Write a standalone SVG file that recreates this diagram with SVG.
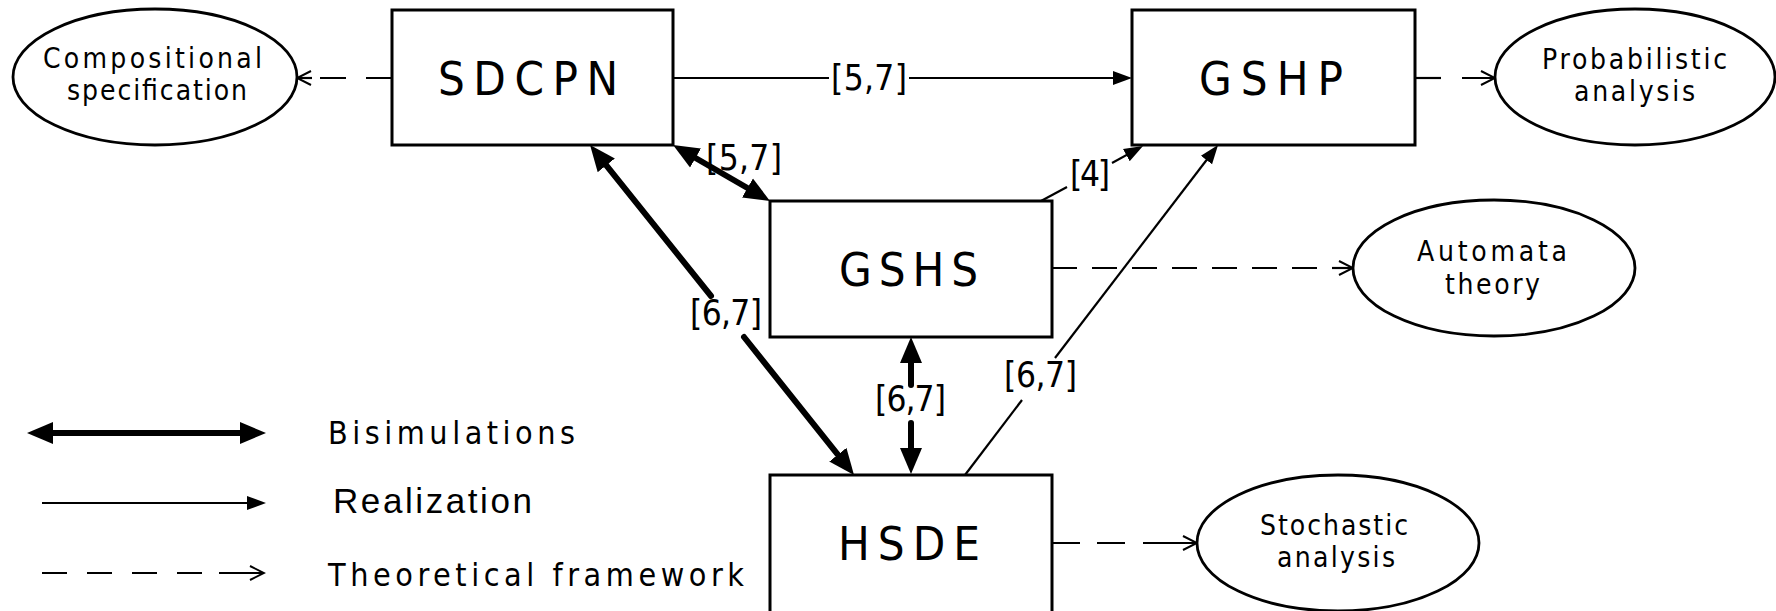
<svg xmlns="http://www.w3.org/2000/svg" width="1776" height="611" viewBox="0 0 1776 611">
<style>
.box{fill:#fff;stroke:#000;stroke-width:3}
.ell{fill:#fff;stroke:#000;stroke-width:2.8}
.t{font-family:"Liberation Sans Narrow","DejaVu Sans Condensed","Liberation Sans",sans-serif;font-stretch:condensed;fill:#000}
.big{font-size:47px}
.sm{font-size:28px}
.lab{font-size:35px}
.leg{font-size:32px}
.thin{stroke:#000;stroke-width:2.2;fill:none}
.thick{stroke:#000;stroke-width:6;fill:none;stroke-linecap:round}
.dash{stroke:#000;stroke-width:2.2;fill:none;stroke-dasharray:26 20}
</style>
<defs>
<marker id="mThin" markerUnits="userSpaceOnUse" markerWidth="20" markerHeight="16" viewBox="0 0 20 16" refX="14" refY="8" orient="auto"><path d="M0,1 L19,8 L0,15 z" fill="#000"/></marker>
<marker id="mThick" markerUnits="userSpaceOnUse" markerWidth="27" markerHeight="24" viewBox="0 0 27 24" refX="16" refY="12" orient="auto-start-reverse"><path d="M0,1 L26,12 L0,23 z" fill="#000"/></marker>
<marker id="mOpen" markerUnits="userSpaceOnUse" markerWidth="18" markerHeight="18" viewBox="0 0 18 18" refX="16" refY="9" orient="auto"><path d="M2,2 L16,9 L2,16" fill="none" stroke="#000" stroke-width="2"/></marker>
</defs>

<g id="connectors">
<!-- SDCPN -> Compositional -->
<path class="dash" d="M392,78 L320,78"/>
<path class="thin" d="M312,78 L297,78" marker-end="url(#mOpen)"/>
<!-- GSHP -> Probabilistic -->
<path class="dash" d="M1415,78 L1441,78"/>
<path class="thin" d="M1462,78 L1495,78" marker-end="url(#mOpen)"/>
<!-- GSHS -> Automata -->
<path class="dash" d="M1052,268 L1318,268" style="stroke-dasharray:25 15"/>
<path class="thin" d="M1332,268 L1353,268" marker-end="url(#mOpen)"/>
<!-- HSDE -> Stochastic -->
<path class="dash" d="M1052,543 L1126,543" style="stroke-dasharray:28 17"/>
<path class="thin" d="M1143,543 L1197,543" marker-end="url(#mOpen)"/>
<!-- SDCPN -> GSHP -->
<path class="thin" d="M673,78 L829,78"/>
<path class="thin" d="M909,78 L1127,78" marker-end="url(#mThin)"/>
<!-- SDCPN <-> GSHS -->
<path class="thick" style="stroke-linecap:butt" d="M681.7,150 L761.3,196" marker-start="url(#mThick)" marker-end="url(#mThick)"/>
<!-- SDCPN <-> HSDE -->
<path class="thick" d="M711,296 L596.3,152.8" marker-end="url(#mThick)"/>
<path class="thick" d="M744,337 L847.8,467.2" marker-end="url(#mThick)"/>
<!-- GSHS <-> HSDE -->
<path class="thick" d="M911,385 L911,347" marker-end="url(#mThick)"/>
<path class="thick" d="M911,423 L911,464" marker-end="url(#mThick)"/>
<!-- HSDE -> GSHP -->
<path class="thin" d="M965,475 L1022,400"/>
<path class="thin" d="M1055,358 L1215,149" marker-end="url(#mThin)"/>
<!-- GSHS -> GSHP [4] -->
<path class="thin" d="M1041,201 L1067,187"/>
<path class="thin" d="M1112,163 L1138.6,148.4" marker-end="url(#mThin)"/>
<!-- labels -->
<text class="t lab" x="831" y="90" textLength="76">[5,7]</text>
<text class="t lab" x="706" y="170" textLength="76">[5,7]</text>
<text class="t lab" x="1070" y="186" textLength="40">[4]</text>
<text class="t lab" x="690" y="325" textLength="72">[6,7]</text>
<text class="t lab" x="875" y="411" textLength="71">[6,7]</text>
<text class="t lab" x="1004" y="387" textLength="73">[6,7]</text>
</g>

<g id="SDCPN"><rect class="box" x="392" y="10" width="281" height="135"/><text class="t big" x="438" y="95" textLength="180">SDCPN</text></g>
<g id="GSHP"><rect class="box" x="1132" y="10" width="283" height="135"/><text class="t big" x="1199" y="95" textLength="144">GSHP</text></g>
<g id="GSHS"><rect class="box" x="770" y="201" width="282" height="136"/><text class="t big" x="839" y="286" textLength="139">GSHS</text></g>
<g id="HSDE"><rect class="box" x="770" y="475" width="282" height="150"/><text class="t big" x="838" y="560" textLength="142">HSDE</text></g>

<g id="compositional"><ellipse class="ell" cx="155" cy="77" rx="142" ry="68"/><text class="t sm" x="43" y="68" textLength="219">Compositional</text><text class="t sm" x="67" y="100" textLength="180">specification</text></g>
<g id="probabilistic"><ellipse class="ell" cx="1635" cy="77" rx="140" ry="68"/><text class="t sm" x="1542" y="69" textLength="185">Probabilistic</text><text class="t sm" x="1574" y="101" textLength="121">analysis</text></g>
<g id="automata"><ellipse class="ell" cx="1494" cy="268" rx="141" ry="68"/><text class="t sm" x="1417" y="261" textLength="150">Automata</text><text class="t sm" x="1445" y="294" textLength="95">theory</text></g>
<g id="stochastic"><ellipse class="ell" cx="1338" cy="543" rx="141" ry="68"/><text class="t sm" x="1260" y="535" textLength="148">Stochastic</text><text class="t sm" x="1277" y="567" textLength="118">analysis</text></g>

<g id="legend">
<path class="thick" style="stroke-linecap:butt" d="M37,433 L256,433" marker-start="url(#mThick)" marker-end="url(#mThick)"/>
<text class="t leg" x="328" y="444" textLength="247">Bisimulations</text>
<path class="thin" d="M42,503 L261,503" marker-end="url(#mThin)"/>
<text style="font-family:'Liberation Sans',Arial,sans-serif;font-size:35px" x="333" y="513" textLength="199">Realization</text>
<path class="dash" d="M42,573 L202,573" style="stroke-dasharray:25 20"/>
<path class="thin" d="M219,573 L264,573" marker-end="url(#mOpen)"/>
<text class="t leg" x="328" y="586" textLength="416">Theoretical framework</text>
</g>
</svg>
